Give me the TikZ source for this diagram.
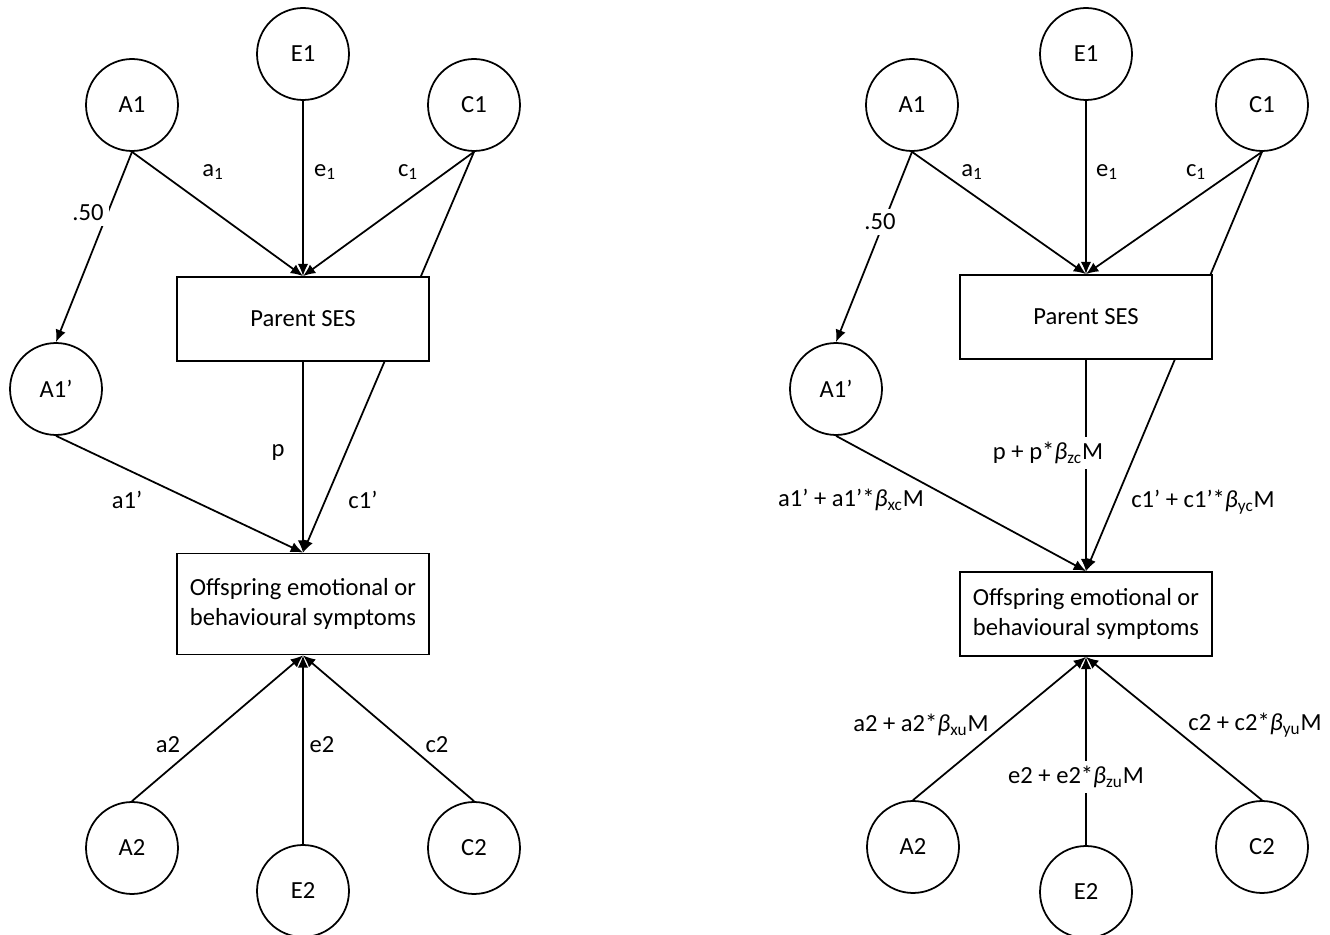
\documentclass[tikz,border=0pt]{standalone}
\usepackage{fontspec}
\setmainfont{Carlito}
\usepackage{tikz}
\usetikzlibrary{arrows.meta}
\usetikzlibrary{backgrounds}

\tikzset{
	latent/.style={draw, circle, line width=1pt, minimum size=1.84cm, inner sep=0pt, fill=white},
	observed/.style={draw, rectangle, line width=1pt, minimum width=5.04cm, minimum height=1.68cm, inner sep=2pt, fill=white, align=center},
	effect/.style={line width=1pt, -{Latex[length=7pt,width=6pt]}},
	lbl/.style={inner sep=1pt},
	cutlbl/.style={inner sep=3pt, fill=white},
}

\begin{document}
\begin{tikzpicture}[x=0.02cm, y=-0.02cm, font=\fontsize{14}{17}\selectfont]
			%\draw[help lines] (0,0) grid (1330,935);
			\useasboundingbox (0,0) rectangle (1330,935);
			
				% left model
				\node[latent] (A1) at (132,105) {A1};
				\node[latent] (E1) at (303,54) {E1};
				\node[latent] (C1) at (474,105) {C1};
				\node[latent] (A1p) at (56,389) {A1’};
				
				\node[observed] (PS) at (303,319) {Parent SES};
				\node[observed, minimum height=2.02cm] (OS) at (303,604) {Offspring emotional or\\behavioural symptoms};
				
				\node[latent] (A2) at (132,848) {A2};
				\node[latent] (E2) at (303,891) {E2};
				\node[latent] (C2) at (474,848) {C2};
				
				\draw[effect] (A1.south) -- (PS.north);
				\draw[effect] (E1) -- (PS.north);
				\draw[effect] (C1.south) -- (PS.north);
				\begin{scope}[on background layer]
				\draw[effect] (C1.south) -- (OS.north);
				\end{scope}
				\draw[effect] (A1.south) -- (A1p.north);
				\draw[effect] (A1p.south) -- (OS.north);
				\draw[effect] (PS) -- (OS);
				
				\draw[effect] (A2.north) -- (OS.south);
				\draw[effect] (E2) -- (OS.south);
				\draw[effect] (C2.north) -- (OS.south);
				
				\node[lbl] (la1) at (213,172) {a\textsubscript{1}};
				\node[lbl] (le1) at (325,172) {e\textsubscript{1}};
				\node[lbl] (lc1) at (408,172) {c\textsubscript{1}};
				\node[cutlbl] (lhalf) at (88,213) {.50};
				\node[lbl] (lp) at (278,453) {p};
				\node[lbl] (la1p) at (127,500) {a1’};
				\node[lbl] (lc1p) at (363,500) {c1’};
				\node[lbl] (la2) at (168,745) {a2};
				\node[lbl] (le2) at (322,745) {e2};
				\node[lbl] (lc2) at (437,745) {c2};
				
				% right model, moderated paths
				\node[latent] (rA1) at (912,105) {A1};
				\node[latent] (rE1) at (1086,54) {E1};
				\node[latent] (rC1) at (1262,105) {C1};
				\node[latent] (rA1p) at (836,389) {A1’};
				
				\node[observed] (rPS) at (1086,317) {Parent SES};
				\node[observed] (rOS) at (1086,614) {Offspring emotional or\\behavioural symptoms};
				
				\node[latent] (rA2) at (913,847) {A2};
				\node[latent] (rE2) at (1086,892) {E2};
				\node[latent] (rC2) at (1262,847) {C2};
				
				\draw[effect] (rA1.south) -- (rPS.north);
				\draw[effect] (rE1) -- (rPS.north);
				\draw[effect] (rC1.south) -- (rPS.north);
				\begin{scope}[on background layer]
				\draw[effect] (rC1.south) -- (rOS.north);
				\end{scope}
				\draw[effect] (rA1.south) -- (rA1p.north);
				\draw[effect] (rA1p.south) -- (rOS.north);
				\draw[effect] (rPS) -- (rOS);
				
				\draw[effect] (rA2.north) -- (rOS.south);
				\draw[effect] (rE2) -- (rOS.south);
				\draw[effect] (rC2.north) -- (rOS.south);
				
				\node[lbl] (rla1) at (972,172) {a\textsubscript{1}};
				\node[lbl] (rle1) at (1107,172) {e\textsubscript{1}};
				\node[lbl] (rlc1) at (1196,172) {c\textsubscript{1}};
				\node[cutlbl] (rlhalf) at (880,222) {.50};
				\node[cutlbl] (rlp) at (1048,453) {p + p*\textit{β}\textsubscript{zc}M};
				\node[lbl] (rla1p) at (851,500) {a1’ + a1’*\textit{β}\textsubscript{xc}M};
				\node[lbl] (rlc1p) at (1203,502) {c1’ + c1’*\textit{β}\textsubscript{yc}M};
				\node[lbl] (rla2) at (921,725) {a2 + a2*\textit{β}\textsubscript{xu}M};
				\node[cutlbl] (rle2) at (1076,777) {e2 + e2*\textit{β}\textsubscript{zu}M};
				\node[lbl] (rlc2) at (1255,725) {c2 + c2*\textit{β}\textsubscript{yu}M};
			
			\end{tikzpicture}
\end{document}
